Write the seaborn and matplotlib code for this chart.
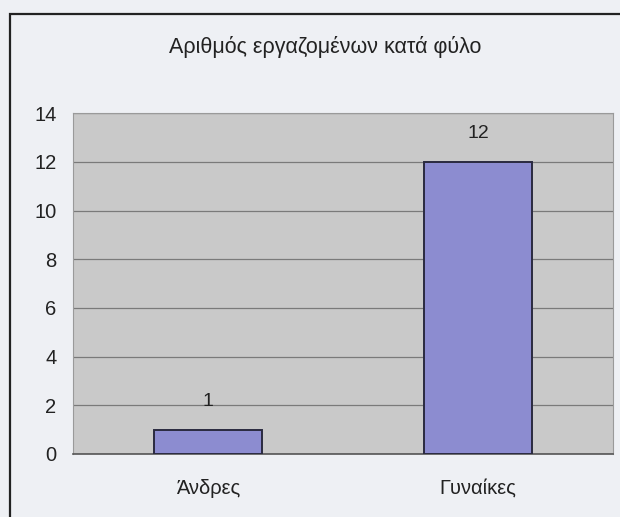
import matplotlib
matplotlib.use('Agg')
import matplotlib.pyplot as plt
import seaborn as sns
from matplotlib.patches import Rectangle

categories = ['Άνδρες', 'Γυναίκες']
counts = [1, 12]
yticks = [0, 2, 4, 6, 8, 10, 12, 14]
title = 'Αριθμός εργαζομένων κατά φύλο'

sns.set_style('white')
plt.rcParams['font.family'] = ['Liberation Sans', 'DejaVu Sans']

fig = plt.figure(figsize=(6.2, 5.17), dpi=100)
fig.patch.set_facecolor('#eef0f4')
ax = fig.add_axes([0.118, 0.122, 0.871, 0.659])
ax.set_facecolor('#c9c9c9')

sns.barplot(x=categories, y=counts, color='#8c8cd0', saturation=1,
            edgecolor='#2a2a40', linewidth=1.4, width=0.4, ax=ax, zorder=3)

ax.set_ylim(0, 14)
ax.set_yticks(yticks)
ax.yaxis.grid(True, color='#7a7a7a', linewidth=0.9, zorder=0)
ax.set_axisbelow(True)
ax.tick_params(axis='both', length=0, labelsize=14.5, colors='#222222')
ax.tick_params(axis='x', pad=18)
ax.tick_params(axis='y', pad=12)
ax.set_xlabel('')
ax.set_ylabel('')
for side in ['top', 'right', 'left']:
    ax.spines[side].set_color('#9a9a9a')
    ax.spines[side].set_linewidth(0.8)
ax.spines['bottom'].set_color('#555555')
ax.spines['bottom'].set_linewidth(1.2)

ax.bar_label(ax.containers[0], padding=14, fontsize=14, color='#222222')

fig.text(0.524, 0.909, title, ha='center', va='center', fontsize=15.5, color='#222222')

fig.patches.append(Rectangle((10 / 620, -0.1), 1.2, 1.1 - 14 / 517, transform=fig.transFigure,
                             fill=False, edgecolor='#222222', linewidth=1.6))

fig.savefig('out.png', dpi=100, facecolor=fig.get_facecolor())
